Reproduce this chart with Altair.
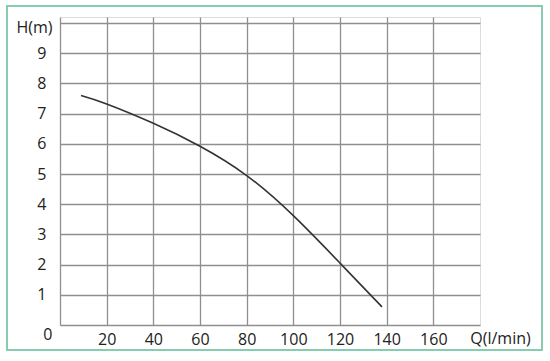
import altair as alt
import pandas as pd

# Pump curve: flow Q (l/min) vs head H (m)
q_values = [9, 20, 40, 60, 80, 100, 120, 138]
h_values = [7.6, 7.32, 6.68, 5.92, 4.95, 3.62, 2.05, 0.6]

x_ticks = [0, 20, 40, 60, 80, 100, 120, 140, 160]
y_ticks = [0, 1, 2, 3, 4, 5, 6, 7, 8, 9, 10]

extra_labels = ["0"]
extra_x = [-5.2]
extra_y = [-0.33]

FONT = "Open Sans"
FS = 16

df = pd.DataFrame({"Q": q_values, "H": h_values})
lab = pd.DataFrame({"t": extra_labels, "Q": extra_x, "H": extra_y})

xs = alt.Scale(domain=[0, 180], nice=False, zero=False)
ys = alt.Scale(domain=[0, 10.2], nice=False, zero=False)

x_axis = alt.Axis(values=x_ticks, labelExpr="datum.value == 0 ? '' : datum.label",
                  labelOverlap=False, tickCount=9,
                  domain=False, ticks=False, grid=True, gridColor="#8f8f8f", gridWidth=1.3,
                  labelFont=FONT, labelFontSize=FS, labelColor="#222", labelPadding=6,
                  title="Q(l/min)", titleFont=FONT, titleFontSize=FS, titleFontWeight="normal",
                  titleColor="#222", titleX=440, titleY=13, titleAlign="center", titleBaseline="middle")
y_axis = alt.Axis(values=y_ticks, labelExpr="(datum.value == 0 || datum.value == 10) ? '' : datum.label",
                  labelOverlap=False, tickCount=11,
                  domain=False, ticks=False, grid=True, gridColor="#8f8f8f", gridWidth=1.3,
                  labelFont=FONT, labelFontSize=FS, labelColor="#222", labelPadding=14,
                  title="H(m)", titleFont=FONT, titleFontSize=FS, titleFontWeight="normal",
                  titleColor="#222", titleAngle=0, titleX=-26, titleY=10,
                  titleAlign="center", titleBaseline="middle")

frame = alt.Chart(pd.DataFrame({"k": [0]})).mark_rect(
    filled=False, stroke="#86ccae", strokeWidth=2
).encode(x=alt.value(-53), x2=alt.value(482), y=alt.value(-11), y2=alt.value(333))

curve = alt.Chart(df).mark_line(color="#333333", strokeWidth=1.6, interpolate="natural").encode(
    x=alt.X("Q:Q", scale=xs, axis=x_axis),
    y=alt.Y("H:Q", scale=ys, axis=y_axis),
)

zero = alt.Chart(lab).mark_text(font=FONT, fontSize=FS, color="#222", align="center", baseline="middle").encode(
    x=alt.X("Q:Q", scale=xs, axis=x_axis), y=alt.Y("H:Q", scale=ys, axis=y_axis), text="t:N"
)

chart = alt.layer(frame, curve, zero).properties(
    width=420, height=308,
    autosize=alt.AutoSizeParams(type="none"),
    padding={"left": 60, "top": 17, "right": 70, "bottom": 36},
).configure_view(stroke=None).configure(background="white")

chart.save("out.html", embed_options={"renderer": "svg", "actions": False})
